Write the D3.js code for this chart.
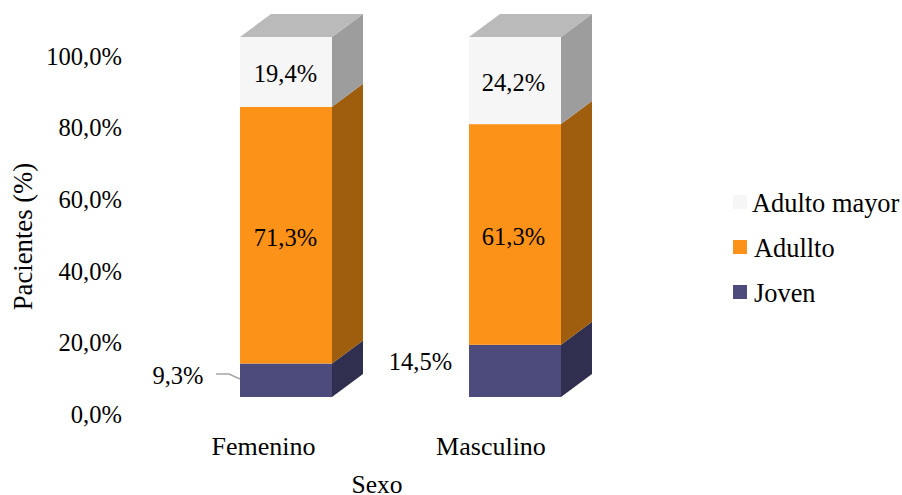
<!DOCTYPE html>
<html><head><meta charset="utf-8">
<script src="https://cdn.jsdelivr.net/npm/d3@7/dist/d3.min.js"></script>
<style>html,body{margin:0;padding:0;background:#fff}svg{display:block}text{font-family:"Liberation Serif",serif;fill:#000}</style>
</head><body><svg id="c" width="902" height="495"></svg>
<script>
const categories = ["Femenino","Masculino"];
const seriesNames = ["Joven","Adullto","Adulto mayor"];
const joven = [9.3,14.5];
const adulto = [71.3,61.3];
const adultoMayor = [19.4,24.2];
const yTicks = [0,20,40,60,80,100];
const colors = ["#4d4b7c","#fc9318","#f6f6f6"];
const sideColors = ["#302f50","#9e5e0e","#9d9d9d"];
const topColor = "#bababa";
const svg = d3.select("#c");
const seriesVals = [joven,adulto,adultoMayor];
const y = d3.scaleLinear().domain([0,100]).range([397,37]);
const yLab = d3.scaleLinear().domain([0,100]).range([414.5,56.5]);
const xc = d3.scalePoint().domain(categories).range([240,469]);
const bw = 92, dx = 31, dy = 23;
const fmt = v => v.toFixed(1).replace(".",",")+"%";
const stack = d3.stack().keys([0,1,2]).value((d,k)=>seriesVals[k][d])(d3.range(categories.length));
stack.forEach((s,k)=>{
  s.forEach((d,i)=>{
    const x0 = xc(categories[i]), y0=y(d[0]), y1=y(d[1]);
    const pts = [[x0+bw,y1],[x0+bw+dx,y1-dy],[x0+bw+dx,y0-dy],[x0+bw,y0]];
    svg.append("polygon").attr("points",pts.join(" ")).attr("fill",sideColors[k]);
    svg.append("rect").attr("x",x0).attr("y",y1).attr("width",bw).attr("height",y0-y1).attr("fill",colors[k]);
    if(k===2){
      const t=[[x0,y1],[x0+dx,y1-dy],[x0+bw+dx,y1-dy],[x0+bw,y1]];
      svg.append("polygon").attr("points",t.join(" ")).attr("fill",topColor);
    }
  });
});
const ax = svg.append("g").attr("transform","translate(122,0)").call(d3.axisLeft(yLab).tickValues(yTicks).tickSize(0).tickPadding(0).tickFormat(fmt));
ax.select(".domain").remove();
ax.selectAll("text").attr("font-size",24.6).attr("font-family",null);
const label=(t,a,b,fs,anchor="middle")=>svg.append("text").attr("x",a).attr("y",b).attr("text-anchor",anchor).attr("font-size",fs).text(t);
const xl=d3.scalePoint().domain(categories).range([263.5,491]);
categories.forEach(c=>label(c,xl(c),455,26));
label("Sexo",377,492.5,25.5);
svg.append("text").attr("transform","translate(32,236.5) rotate(-90)").attr("text-anchor","middle").attr("font-size",26.7).text("Pacientes (%)");
[1,2].forEach(k=>categories.forEach((c,i)=>{
  const m=(stack[k][i][0]+stack[k][i][1])/2;
  label(fmt(seriesVals[k][i]),xc(c)+bw/2-(i?1.5:0.5),y(m)+10.5,24.5);
}));
label(fmt(joven[0]),178,384,24.5);
label(fmt(joven[1]),420.5,370,24.5);
svg.append("path").attr("d",d3.line()([[216,374],[229,374],[240,379]])).attr("fill","none").attr("stroke","#a6a6a6").attr("stroke-width",1.5);
const legendY=[203,248,293];
[2,1,0].forEach((k,j)=>{
  svg.append("rect").attr("x",733).attr("y",legendY[j]-8).attr("width",14).attr("height",14).attr("fill",colors[k]);
  label(seriesNames[k],j===0?752:754,legendY[j]+9,26.4,"start");
});
</script></body></html>
